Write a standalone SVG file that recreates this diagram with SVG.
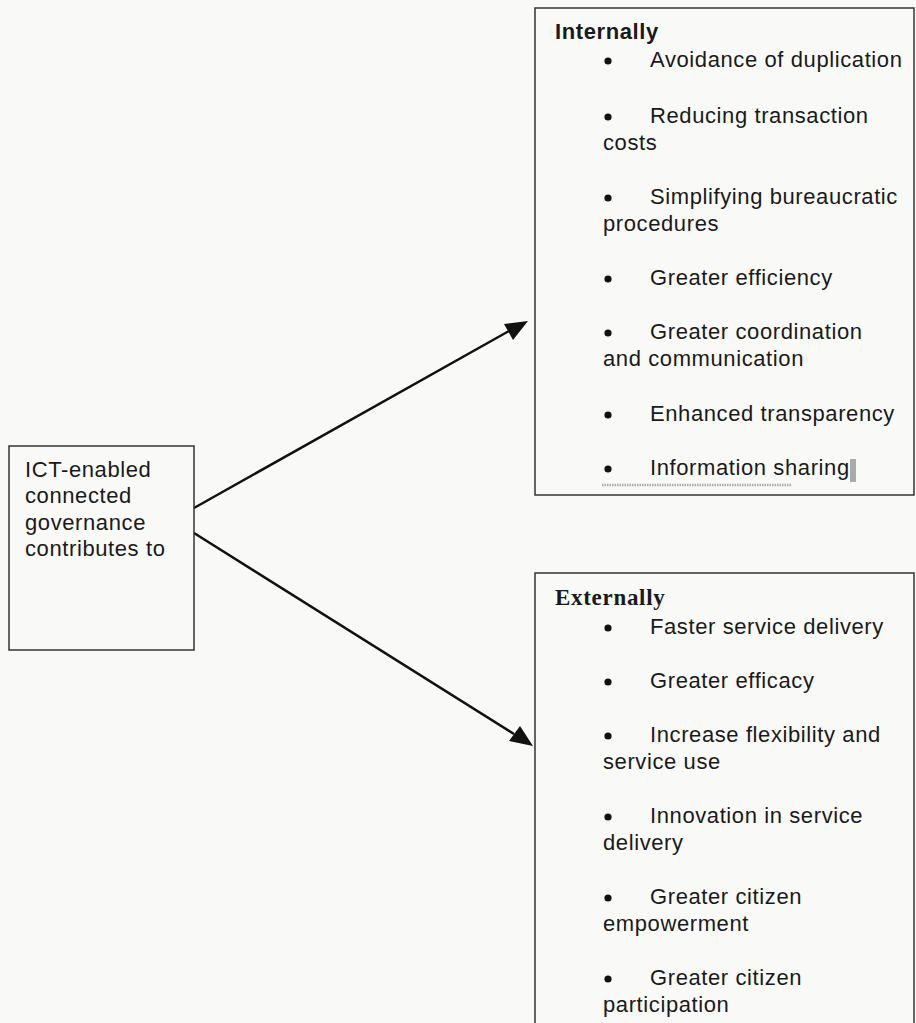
<svg xmlns="http://www.w3.org/2000/svg" width="916" height="1023" viewBox="0 0 916 1023">
<style>
.box{fill:none;stroke:#333;stroke-width:1.5}
.t{font-family:"Liberation Sans",Arial,sans-serif;font-size:22px;letter-spacing:0.6px;fill:#1a1a1a}
.hb{font-family:"Liberation Sans",Arial,sans-serif;font-size:22px;letter-spacing:0.6px;font-weight:bold;fill:#1a1a1a}
.hs{font-family:"Liberation Serif","Times New Roman",serif;font-size:23px;letter-spacing:0.7px;font-weight:bold;fill:#1a1a1a}
.conn{stroke:#111;stroke-width:2.5;fill:none}
.b{fill:#111}
</style>
<rect width="916" height="1023" fill="#f9f9f8"/>
<g id="connectors">
<line class="conn" x1="194" y1="508" x2="509" y2="331"/>
<path d="M528,321 L504,324 L513,340 Z" fill="#111"/>
<line class="conn" x1="194" y1="533" x2="514" y2="734"/>
<path d="M533,746 L509,741 L520,726 Z" fill="#111"/>
</g>
<g id="source">
<rect class="box" x="9" y="446" width="185" height="204"/>
<text class="t" x="25" y="477">ICT-enabled</text>
<text class="t" x="25" y="503">connected</text>
<text class="t" x="25" y="530">governance</text>
<text class="t" x="25" y="556">contributes to</text>
</g>
<g id="internally">
<rect class="box" x="535" y="8" width="379" height="487"/>
<text class="hb" x="555" y="39">Internally</text>
<circle class="b" cx="608" cy="61" r="3.6"/><text class="t" x="650" y="67">Avoidance of duplication</text>
<circle class="b" cx="608" cy="117" r="3.6"/><text class="t" x="650" y="123">Reducing transaction</text>
<text class="t" x="603" y="150">costs</text>
<circle class="b" cx="608" cy="198" r="3.6"/><text class="t" x="650" y="204">Simplifying bureaucratic</text>
<text class="t" x="603" y="231">procedures</text>
<circle class="b" cx="608" cy="279" r="3.6"/><text class="t" x="650" y="285">Greater efficiency</text>
<circle class="b" cx="608" cy="333" r="3.6"/><text class="t" x="650" y="339">Greater coordination</text>
<text class="t" x="603" y="366">and communication</text>
<circle class="b" cx="608" cy="415" r="3.6"/><text class="t" x="650" y="421">Enhanced transparency</text>
<circle class="b" cx="608" cy="469" r="3.6"/><text class="t" x="650" y="475">Information sharing</text>
<line x1="602" y1="485" x2="791" y2="485" stroke="#aaa" stroke-width="2.5" stroke-dasharray="1.5 1"/>
<rect x="850" y="459" width="6" height="23" fill="#aaa"/>
</g>
<g id="externally">
<rect class="box" x="535" y="573" width="379" height="460"/>
<text class="hs" x="555" y="605">Externally</text>
<circle class="b" cx="608" cy="628" r="3.6"/><text class="t" x="650" y="634">Faster service delivery</text>
<circle class="b" cx="608" cy="682" r="3.6"/><text class="t" x="650" y="688">Greater efficacy</text>
<circle class="b" cx="608" cy="736" r="3.6"/><text class="t" x="650" y="742">Increase flexibility and</text>
<text class="t" x="603" y="769">service use</text>
<circle class="b" cx="608" cy="817" r="3.6"/><text class="t" x="650" y="823">Innovation in service</text>
<text class="t" x="603" y="850">delivery</text>
<circle class="b" cx="608" cy="898" r="3.6"/><text class="t" x="650" y="904">Greater citizen</text>
<text class="t" x="603" y="931">empowerment</text>
<circle class="b" cx="608" cy="979" r="3.6"/><text class="t" x="650" y="985">Greater citizen</text>
<text class="t" x="603" y="1012">participation</text>
</g>
</svg>
